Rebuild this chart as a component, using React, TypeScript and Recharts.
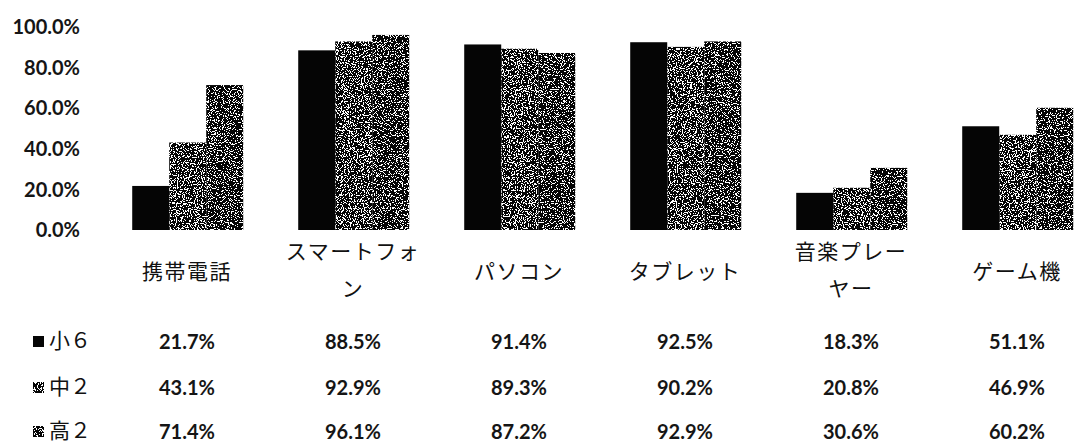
import { BarChart, Bar, XAxis, YAxis } from "recharts";

const categories = ["携帯電話", "スマートフォン", "パソコン", "タブレット", "音楽プレーヤー", "ゲーム機"];
const categoryLines = [["携帯電話"], ["スマートフォ", "ン"], ["パソコン"], ["タブレット"], ["音楽プレー", "ヤー"], ["ゲーム機"]];
const shou6 = [21.7, 88.5, 91.4, 92.5, 18.3, 51.1];
const chuu2 = [43.1, 92.9, 89.3, 90.2, 20.8, 46.9];
const kou2 = [71.4, 96.1, 87.2, 92.9, 30.6, 60.2];
const seriesNames = ["小６", "中２", "高２"];
const yTicks = [0, 20, 40, 60, 80, 100];

const seriesValues = [shou6, chuu2, kou2];
const seriesKeys = ["s0", "s1", "s2"];
const seriesFilters = [undefined, "url(#dither1)", "url(#dither2)"];

const data = categories.map((name, i) => ({ name, s0: shou6[i], s1: chuu2[i], s2: kou2[i] }));

const JP = '"Noto Sans CJK JP", sans-serif';
const NUM = "Lato, sans-serif";

const barShape = (filter?: string) => (p: any) =>
  <rect x={p.x} y={p.y} width={p.width} height={p.height} fill="#050505" filter={filter} />;

function CategoryTick(props: any) {
  const { x, y, payload } = props;
  const lines = categoryLines[categories.indexOf(payload.value)] || [payload.value];
  const start = lines.length === 1 ? 41 : 21;
  return (
    <g>
      {lines.map((line, i) => (
        <text key={i} x={x} y={y + start + i * 37 + 8} textAnchor="middle"
          style={{ fontFamily: JP, fontSize: 21, letterSpacing: 1.5, fill: "#111" }}>
          {line}
        </text>
      ))}
    </g>
  );
}

// one row of the data table under the chart, with its legend key in the left margin
const rowTick = (row: number, base: number) => (props: any) => {
  const { x, y, payload } = props;
  const idx = categories.indexOf(payload.value);
  const v = seriesValues[row][idx];
  return (
    <g>
      {idx === 0 && (
        <g>
          <rect x={33} y={y + base - 13} width={11} height={11} fill="#050505" filter={seriesFilters[row]} />
          <text x={49} y={y + base - 1} style={{ fontFamily: JP, fontSize: 21, fill: "#111" }}>{seriesNames[row]}</text>
        </g>
      )}
      <text x={x} y={y + base} textAnchor="middle"
        style={{ fontFamily: NUM, fontSize: 20, fontWeight: 700, fill: "#151515" }}>
        {v.toFixed(1) + "%"}
      </text>
    </g>
  );
};

function DitherFilter({ id, seed, bias }: { id: string; seed: number; bias: number }) {
  return (
    <filter id={id} x="0" y="0" width="1" height="1" filterUnits="objectBoundingBox"
      primitiveUnits="userSpaceOnUse" colorInterpolationFilters="sRGB">
      <feTurbulence type="fractalNoise" baseFrequency="0.85" numOctaves={2} seed={seed} result="noise" />
      <feColorMatrix in="noise" type="matrix"
        values={`0 0 0 0 0  0 0 0 0 0  0 0 0 0 0  1 0 0 0 ${bias}`} result="a" />
      <feComponentTransfer in="a" result="mask">
        <feFuncA type="discrete" tableValues="0 1" />
      </feComponentTransfer>
      <feComposite in="SourceGraphic" in2="mask" operator="in" />
    </filter>
  );
}

export default function App() {
  return (
    <div style={{ position: "absolute", left: 0, top: 0, width: 1075, height: 444, overflow: "hidden", background: "#fff" }}>
      <svg width={0} height={0} style={{ position: "absolute" }}>
        <defs>
          <DitherFilter id="dither1" seed={3} bias={0.06} />
          <DitherFilter id="dither2" seed={7} bias={0.08} />
        </defs>
      </svg>
      <BarChart width={1100} height={444} data={data}
        margin={{ top: 27, right: 0, bottom: 0, left: 0 }}
        barCategoryGap="17%" barGap={0}>
        <YAxis domain={[0, 100]} ticks={yTicks} width={104} axisLine={false} tickLine={false}
          tickSize={0} tickMargin={24} interval={0}
          tickFormatter={(v: number) => v.toFixed(1) + "%"}
          tick={{ fontFamily: NUM, fontSize: 20, fontWeight: 700, fill: "#151515" }} />
        <XAxis xAxisId="cat" dataKey="name" height={92} axisLine={false} tickLine={false}
          tickSize={0} tickMargin={0} interval={0} tick={(p: any) => <CategoryTick {...p} />} />
        <XAxis xAxisId="r0" dataKey="name" height={46} axisLine={false} tickLine={false}
          tickSize={0} tickMargin={0} interval={0} tick={rowTick(0, 27)} />
        <XAxis xAxisId="r1" dataKey="name" height={47} axisLine={false} tickLine={false}
          tickSize={0} tickMargin={0} interval={0} tick={rowTick(1, 27)} />
        <XAxis xAxisId="r2" dataKey="name" height={29} axisLine={false} tickLine={false}
          tickSize={0} tickMargin={0} interval={0} tick={rowTick(2, 24)} />
        {seriesKeys.map((k, i) => (
          <Bar key={k} xAxisId="cat" dataKey={k} name={seriesNames[i]}
            shape={barShape(seriesFilters[i])} isAnimationActive={false} />
        ))}
      </BarChart>
    </div>
  );
}
